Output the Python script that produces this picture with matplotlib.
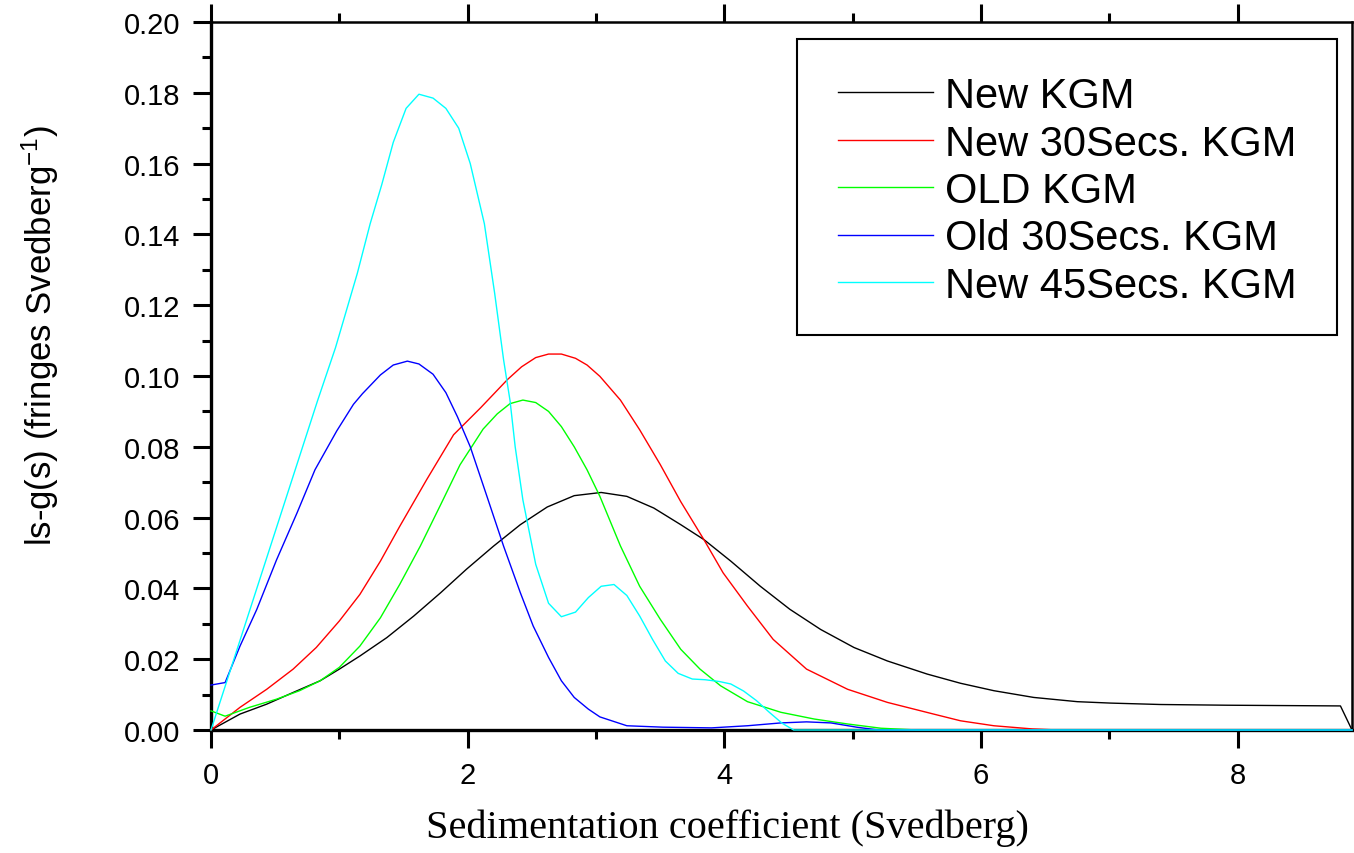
import matplotlib
matplotlib.use("Agg")
import matplotlib.pyplot as plt
from matplotlib.patches import Rectangle
from matplotlib.ticker import MultipleLocator, FormatStrFormatter

plt.rcParams['font.family'] = ['Liberation Sans', 'DejaVu Sans']
plt.rcParams['mathtext.fontset'] = 'custom'
plt.rcParams['mathtext.rm'] = 'Liberation Sans'
plt.rcParams['mathtext.default'] = 'regular'

# data
s_new = [0, 0.226, 0.434, 0.64, 0.85, 1.0, 1.16, 1.37, 1.58, 1.79, 1.99, 2.20, 2.41, 2.62, 2.83, 3.04,
         3.24, 3.45, 3.66, 3.84, 4.05, 4.28, 4.51, 4.75, 5.01, 5.27, 5.58, 5.84, 6.10, 6.41, 6.75, 7.01,
         7.40, 7.92, 8.80, 8.89]
g_new = [0, 0.0045, 0.0073, 0.0106, 0.0139, 0.0172, 0.0209, 0.0261, 0.0322, 0.0388, 0.0454, 0.0519,
         0.0580, 0.0630, 0.0662, 0.0671, 0.0660, 0.0627, 0.0580, 0.0538, 0.0477, 0.0406, 0.0341, 0.0284,
         0.0233, 0.0195, 0.0158, 0.0132, 0.0111, 0.0092, 0.0080, 0.0076, 0.0072, 0.0070, 0.0068, 0.0]

s_new30 = [0, 0.226, 0.434, 0.64, 0.82, 1.0, 1.16, 1.32, 1.47, 1.68, 1.89, 2.10, 2.31, 2.42, 2.53, 2.63,
           2.73, 2.84, 2.93, 3.03, 3.19, 3.34, 3.50, 3.66, 3.84, 3.99, 4.18, 4.38, 4.64, 4.96, 5.27, 5.63,
           5.84, 6.10, 6.40, 6.60, 8.89]
g_new30 = [0, 0.0064, 0.0115, 0.0172, 0.0233, 0.0308, 0.0383, 0.0477, 0.0575, 0.0707, 0.0834, 0.0910,
           0.0990, 0.1026, 0.1052, 0.1062, 0.1062, 0.1050, 0.1031, 0.0999, 0.0932, 0.0848, 0.0750, 0.0645,
           0.0538, 0.0444, 0.0350, 0.0256, 0.0172, 0.0115, 0.0078, 0.0045, 0.0026, 0.0012, 0.0003, 0, 0]

s_old = [0, 0.11, 0.30, 0.51, 0.69, 0.85, 1.0, 1.16, 1.32, 1.47, 1.63, 1.79, 1.94, 2.12, 2.23, 2.33, 2.43,
         2.53, 2.63, 2.73, 2.83, 2.93, 3.03, 3.19, 3.34, 3.50, 3.66, 3.81, 3.97, 4.18, 4.44, 4.70, 4.96,
         5.22, 5.50, 8.89]
g_old = [0.0054, 0.0039, 0.0064, 0.0087, 0.0111, 0.0139, 0.0177, 0.0237, 0.0317, 0.0411, 0.0519, 0.0637,
         0.0749, 0.0850, 0.0893, 0.0922, 0.0932, 0.0925, 0.0900, 0.0857, 0.0800, 0.0735, 0.0660, 0.0520,
         0.0406, 0.0313, 0.0228, 0.0172, 0.0125, 0.0080, 0.0050, 0.0031, 0.0017, 0.0005, 0, 0]

s_old30 = [0, 0.11, 0.226, 0.356, 0.51, 0.67, 0.81, 0.98, 1.11, 1.18, 1.32, 1.42, 1.53, 1.62, 1.73, 1.83,
           1.92, 2.02, 2.15, 2.28, 2.41, 2.51, 2.63, 2.73, 2.83, 2.94, 3.03, 3.24, 3.52, 3.90, 4.18, 4.44,
           4.64, 4.83, 5.03, 5.20, 8.89]
g_old30 = [0.0127, 0.0134, 0.0237, 0.0340, 0.0480, 0.0613, 0.0735, 0.0845, 0.0920, 0.0950, 0.1003, 0.1031,
           0.1042, 0.1034, 0.1005, 0.0953, 0.0885, 0.0800, 0.0660, 0.0519, 0.0388, 0.0294, 0.0205, 0.0139,
           0.0092, 0.0059, 0.0037, 0.0012, 0.0008, 0.0006, 0.0012, 0.0020, 0.0023, 0.0020, 0.0008, 0, 0]

s_new45 = [0, 0.83, 0.97, 1.14, 1.24, 1.33, 1.42, 1.52, 1.62, 1.73, 1.83, 1.93, 2.02, 2.13, 2.21, 2.28,
           2.33, 2.37, 2.43, 2.53, 2.63, 2.73, 2.84, 2.94, 3.04, 3.14, 3.24, 3.34, 3.44, 3.54, 3.64, 3.75,
           3.85, 3.96, 4.05, 4.15, 4.25, 4.35, 4.45, 4.54, 8.89]
g_new45 = [0, 0.093, 0.108, 0.129, 0.143, 0.154, 0.166, 0.1756, 0.1796, 0.1785, 0.1756, 0.170, 0.160,
           0.143, 0.1234, 0.1045, 0.093, 0.080, 0.065, 0.0468, 0.0358, 0.032, 0.0333, 0.0374, 0.0406,
           0.0411, 0.038, 0.0322, 0.0256, 0.0195, 0.016, 0.0144, 0.0142, 0.0137, 0.013, 0.011, 0.0083,
           0.005, 0.0019, 0, 0]

labels = ['New KGM', 'New 30Secs. KGM', 'OLD KGM', 'Old 30Secs. KGM', 'New 45Secs. KGM']
colors = ['#000000', '#ff0000', '#00ff00', '#0000ff', '#00ffff']

W, H = 1354, 854
fig = plt.figure(figsize=(W / 100, H / 100), dpi=100)
ax = fig.add_axes([211 / W, 1 - 731 / H, (1352 - 211) / W, (731 - 23) / H])

series = [(s_new, g_new), (s_new30, g_new30), (s_old, g_old), (s_old30, g_old30), (s_new45, g_new45)]
for (xs, ys), lab, c in zip(series, labels, colors):
    ax.plot(xs, ys, color=c, lw=1.0, label=lab, zorder=3, clip_on=False)

ax.set_xlim(0, 8.89)
ax.set_ylim(0, 0.20)
ax.xaxis.set_major_locator(MultipleLocator(2))
ax.xaxis.set_minor_locator(MultipleLocator(1))
ax.yaxis.set_major_locator(MultipleLocator(0.02))
ax.yaxis.set_minor_locator(MultipleLocator(0.01))
ax.yaxis.set_major_formatter(FormatStrFormatter('%.2f'))

ax.tick_params(which='both', direction='out', top=True, right=False, width=2.2)
ax.tick_params(which='major', length=13, pad=9, labelsize=21)
ax.tick_params(which='minor', length=6.5)
for side in ['left', 'bottom']:
    ax.spines[side].set_linewidth(2.4)
for side in ['top', 'right']:
    ax.spines[side].set_linewidth(1.8)

# axis titles
fig.text(40 / W, 1 - 336 / H, 'ls-g(s) (fringes Svedberg$^{-1}$)', rotation=90,
         ha='center', va='center', fontsize=25)
fig.text(727 / W, 1 - 828 / H, 'Sedimentation coefficient (Svedberg)', ha='center', va='center',
         fontsize=29, family='Liberation Serif')

# legend: own frame box, entries placed inside
fig.add_artist(Rectangle((797 / W, 1 - 336 / H), 540 / W, 296 / H, transform=fig.transFigure,
                         fill=False, edgecolor='black', lw=1.5))
leg = ax.legend(loc='upper left', bbox_to_anchor=(838 / W, 1 - 77 / H), bbox_transform=fig.transFigure,
                fontsize=30, frameon=False, handlelength=2.28, handletextpad=0.29,
                labelspacing=0.18, borderpad=0, borderaxespad=0)

fig.savefig('out.png', dpi=100)
